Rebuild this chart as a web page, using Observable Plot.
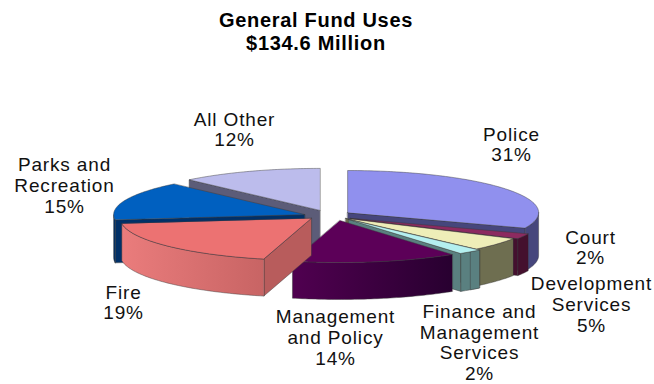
<!DOCTYPE html>
<html>
<head>
<meta charset="utf-8">
<script src="https://cdn.jsdelivr.net/npm/d3@7"></script>
<script src="https://cdn.jsdelivr.net/npm/@observablehq/plot@0.6"></script>
<style>
  html, body { margin: 0; background: #fff; }
  #title { height: 62px; padding: 9px 22px 0 0; box-sizing: border-box; width: 654px; text-align: center;
    font: bold 20px/23px "Liberation Sans", sans-serif; color: #000; letter-spacing: 0.7px; }
  svg { display: block; }
  svg text { letter-spacing: 0.85px; }
</style>
</head>
<body>
<div id="title">General Fund Uses<br>$134.6 Million</div>
<div id="chart"></div>
<script>
// General Fund budget shares, percent, clockwise from twelve o'clock
const categories = ["Police", "Court", "Development Services", "Finance and Management Services",
  "Management and Policy", "Fire", "Parks and Recreation", "All Other"];
const shares = [31, 2, 5, 2, 14, 19, 15, 12];

// How far each slice is pulled out, in pie radii (sideways, front-to-back)
const pullX = [0.10, 0.115, 0.09, 0.105, 0.06, -0.09, -0.125, -0.045];
const pullY = [0, -0.14, -0.14, -0.165, -0.19, -0.14, -0.05, 0.05];

// Slab thickness per slice, in pixels: the side walls read a little taller
const wallHeights = [43, 37, 37, 38, 37, 37, 43, 38];

const topColors = ["#9090ee", "#8c2a60", "#eeeeb8", "#b4f0f0", "#5c0058", "#ec7272", "#0060c0", "#bcbcec"];
const rimColors = ["#46467c", "#44102e", "#6e6e50", "#5a8080", "url(#rimMgmt)", "url(#rimFire)", "#003068", "#5c5c78"];
const cutColors = ["#46467c", "#44102e", "#6e6e50", "#5a8080", "#3a0040", "#b85c5c", "#003068", "#5c5c78"];

// Slices are painted back to front so nearer ones overlap
const paintOrder = [7, 6, 0, 1, 2, 3, 4, 5];

const labels = [
  ["Police\n31%", 511, 144],
  ["Court\n2%", 590, 247],
  ["Development\nServices\n5%", 591, 304],
  ["Finance and\nManagement\nServices\n2%", 479, 342],
  ["Management\nand Policy\n14%", 335, 337],
  ["Fire\n19%", 123, 302],
  ["Parks and\nRecreation\n15%", 64, 185],
  ["All Other\n12%", 234, 129]
];

// Pie layout on the page: centre and radii of the tilted ellipse
const cx = 328, cy = 212, rx = 191, ry = 42;
const svgTop = 62, svgHeight = 322;

const rad = d => d * Math.PI / 180;
const rimPoint = (deg, ox, oy, drop = 0) => [ox + Math.sin(rad(deg)), oy + Math.cos(rad(deg)) - drop];
const arc = (a, b, ox, oy, drop = 0) => {
  const pts = [];
  const n = Math.max(1, Math.ceil(b - a));
  for (let i = 0; i <= n; ++i) pts.push(rimPoint(a + (b - a) * i / n, ox, oy, drop));
  return pts;
};

const total = d3.sum(shares);
const bounds = d3.cumsum(shares).map(c => c / total * 360);

const face = (points, fill, width = 0.6) =>
  Plot.line(points, {x: "0", y: "1", curve: "linear-closed", fill, stroke: "#3a3a3a", strokeWidth: width, strokeOpacity: 0.75});

const marks = [];
for (const i of paintOrder) {
  const b = bounds[i], a = b - shares[i] / total * 360;
  const ox = pullX[i], oy = pullY[i], thickness = wallHeights[i] / ry;
  const apex = [ox, oy], apexLow = [ox, oy - thickness];

  // Cut faces turned toward the viewer
  if (Math.sin(rad(a)) < 0) marks.push(face([apex, rimPoint(a, ox, oy), rimPoint(a, ox, oy, thickness), apexLow], cutColors[i]));
  if (Math.sin(rad(b)) > 0) marks.push(face([apex, rimPoint(b, ox, oy), rimPoint(b, ox, oy, thickness), apexLow], cutColors[i]));

  // Outer wall, front half only; the narrow Finance wall shows a facet line down its middle
  const a0 = Math.max(a, 90), b0 = Math.min(b, 270);
  if (b0 > a0) marks.push(face([...arc(a0, b0, ox, oy), ...arc(a0, b0, ox, oy, thickness).reverse()], rimColors[i]));
  if (categories[i].startsWith("Finance")) {
    const m = (a0 + b0) / 2;
    marks.push(face([...arc(a0, m, ox, oy), ...arc(a0, m, ox, oy, thickness).reverse()], rimColors[i]));
  }

  // Top surface
  marks.push(face([apex, ...arc(a, b, ox, oy)], topColors[i]));
}

// Horizontal shading for the two large front walls
const gradients = () => {
  const defs = d3.create("svg:defs");
  const add = (id, from, to) => {
    const g = defs.append("linearGradient").attr("id", id);
    g.append("stop").attr("offset", "0").attr("stop-color", from);
    g.append("stop").attr("offset", "1").attr("stop-color", to);
  };
  add("rimMgmt", "#500050", "#280030");
  add("rimFire", "#ea7c7c", "#c86464");
  return defs.node();
};

const chart = Plot.plot({
  width: 654,
  height: svgHeight,
  margin: 0,
  x: {domain: [-cx / rx, (654 - cx) / rx], range: [0, 654], axis: null},
  y: {domain: [(cy - svgTop) / ry, (cy - svgTop - svgHeight) / ry], range: [0, svgHeight], axis: null},
  style: {background: "#fff"},
  marks: [
    gradients,
    ...marks,
    Plot.text(labels, {
      x: d => (d[1] - cx) / rx,
      y: d => (cy - d[2]) / ry,
      text: "0",
      fontSize: 19,
      lineHeight: 1.09,
      fontFamily: "Liberation Sans, Arial, sans-serif",
      fill: "#111"
    })
  ]
});
document.getElementById("chart").append(chart);
</script>
</body>
</html>
